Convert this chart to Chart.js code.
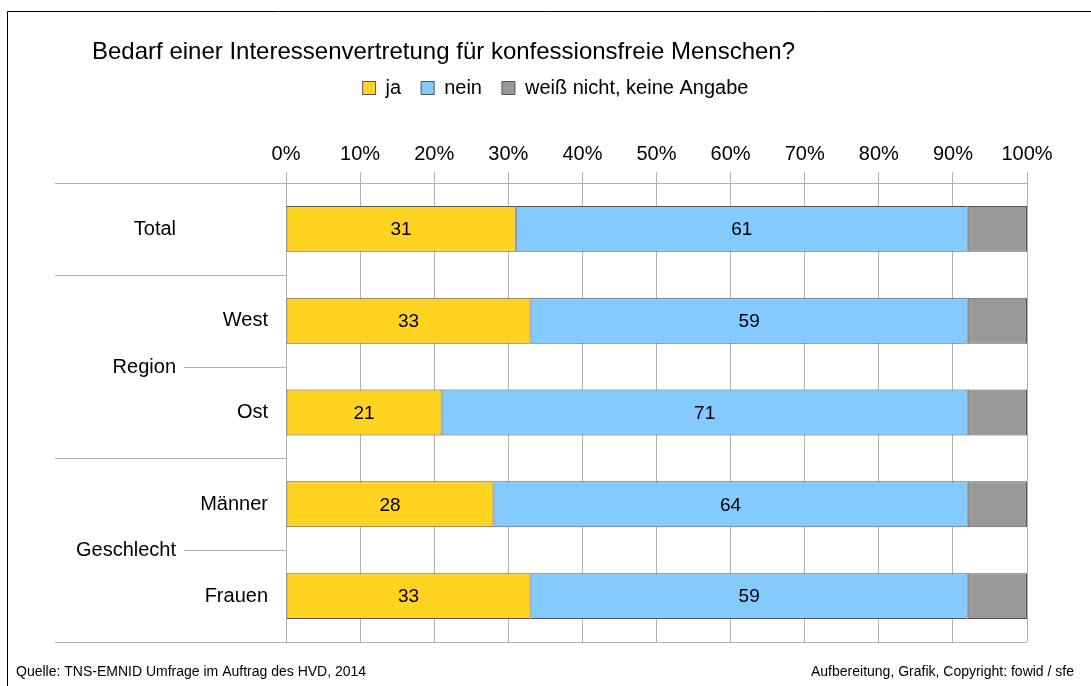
<!DOCTYPE html>
<html>
<head>
<meta charset="utf-8">
<script src="https://cdn.jsdelivr.net/npm/chart.js@4/dist/chart.umd.min.js"></script>
<style>
  html, body { margin: 0; padding: 0; background: #fff; }
  #wrap { width: 1091px; height: 686px; position: relative; }
</style>
</head>
<body>
<div id="wrap"><canvas id="myChart" width="1091" height="686"></canvas></div>
<script>
const categories = ['Total', 'West', 'Ost', 'Männer', 'Frauen'];
const jaValues = [31, 33, 21, 28, 33];
const neinValues = [61, 59, 71, 64, 59];
const weissNichtValues = [8, 8, 8, 8, 8];
// labels in the outer column: Total stands alone, the others group two rows
const groups = [
    { label: 'Total', from: 0, to: 0 },
    { label: 'Region', from: 1, to: 2 },
    { label: 'Geschlecht', from: 3, to: 4 }
];
const separators = [0, 1, 3, 5]; // boundaries between category blocks

const FONT = "'Liberation Sans', Arial, sans-serif";
Chart.defaults.font.family = FONT;
Chart.defaults.color = '#000';

// pixel of the boundary before category i
function boundary(scale, i) {
    const step = scale.getPixelForValue(1) - scale.getPixelForValue(0);
    return scale.getPixelForValue(0) + (i - 0.5) * step;
}

const decorations = {
    id: 'decorations',
    beforeDraw(chart) {
        const c = chart.ctx;
        c.save();
        c.fillStyle = '#fff';
        c.fillRect(0, 0, chart.width, chart.height);
        c.strokeStyle = '#000';
        c.lineWidth = 1;
        c.beginPath();
        c.moveTo(7.5, chart.height + 5);
        c.lineTo(7.5, 11.5);
        c.lineTo(chart.width + 5, 11.5);
        c.stroke();

        c.fillStyle = '#000';
        c.font = '24px ' + FONT;
        c.textBaseline = 'middle';
        c.textAlign = 'left';
        c.fillText('Bedarf einer Interessenvertretung für konfessionsfreie Menschen?', 92, 52);

        c.font = "14px 'Liberation Sans Narrow', " + FONT;
        c.fillText('Quelle: TNS-EMNID Umfrage im Auftrag des HVD, 2014', 16, 672);
        c.textAlign = 'right';
        c.fillText('Aufbereitung, Grafik, Copyright: fowid / sfe', 1074, 672);
        c.restore();
    },
    afterDraw(chart) {
        const c = chart.ctx;
        const y = chart.scales.y;
        const area = chart.chartArea;
        c.save();
        c.strokeStyle = '#b3b3b3';
        c.lineWidth = 1;
        // bottom line of plot
        c.beginPath();
        c.moveTo(area.left, Math.round(area.bottom) + 0.5);
        c.lineTo(area.right, Math.round(area.bottom) + 0.5);
        c.stroke();
        // separators in label column
        separators.forEach(i => {
            const py = Math.round(boundary(y, i)) + 0.5;
            c.beginPath();
            c.moveTo(55, py);
            c.lineTo(area.left, py);
            c.stroke();
        });
        // outer labels
        c.font = '20px ' + FONT;
        c.fillStyle = '#000';
        c.textBaseline = 'middle';
        c.textAlign = 'right';
        groups.forEach(g => {
            const py = Math.round((y.getPixelForValue(g.from) + y.getPixelForValue(g.to)) / 2) + 0.5;
            c.fillText(g.label, 176, py);
            if (g.to > g.from) {
                c.beginPath();
                c.moveTo(184, py);
                c.lineTo(area.left, py);
                c.stroke();
            }
        });
        // data labels for ja / nein
        c.font = '19px ' + FONT;
        c.textAlign = 'center';
        [0, 1].forEach(di => {
            const meta = chart.getDatasetMeta(di);
            meta.data.forEach((bar, i) => {
                const p = bar.getCenterPoint();
                c.fillText(String(chart.data.datasets[di].data[i]), p.x, p.y + 1);
            });
        });
        c.restore();
    }
};

const ctx = document.getElementById('myChart').getContext('2d');
const myChart = new Chart(ctx, {
    type: 'bar',
    data: {
        labels: categories,
        datasets: [
            { label: 'ja', data: jaValues, backgroundColor: '#ffd320' },
            { label: 'nein', data: neinValues, backgroundColor: '#83caff' },
            { label: 'weiß nicht, keine Angabe', data: weissNichtValues, backgroundColor: '#999999' }
        ]
    },
    options: {
        indexAxis: 'y',
        responsive: false,
        animation: false,
        datasets: {
            bar: {
                barPercentage: 0.5,
                categoryPercentage: 1.0,
                borderColor: '#555555',
                borderWidth: 1,
                borderSkipped: false
            }
        },
        layout: {
            padding: { left: 84, right: 64, top: 58, bottom: 44 }
        },
        plugins: {
            title: { display: false },
            tooltip: { enabled: false },
            legend: {
                position: 'top',
                labels: {
                    font: { size: 20 },
                    boxWidth: 13,
                    boxHeight: 13,
                    padding: 20,
                    color: '#000'
                }
            }
        },
        scales: {
            x: {
                position: 'top',
                stacked: true,
                min: 0,
                max: 100,
                afterFit(scale) { scale.height = 75; },
                ticks: {
                    stepSize: 10,
                    padding: 6,
                    font: { size: 20 },
                    color: '#000',
                    callback: v => v + '%'
                },
                grid: { color: '#b3b3b3', tickLength: 11 },
                border: { color: '#b3b3b3' }
            },
            y: {
                stacked: true,
                afterFit(scale) { scale.width = 202; },
                ticks: {
                    padding: 18,
                    font: { size: 20 },
                    color: '#000',
                    callback: (v, i) => groups.some(g => g.from === i && g.to === i) ? '' : categories[i]
                },
                grid: { display: false, drawTicks: false },
                border: { display: true, color: '#b3b3b3' }
            }
        }
    },
    plugins: [decorations]
});
</script>
</body>
</html>
